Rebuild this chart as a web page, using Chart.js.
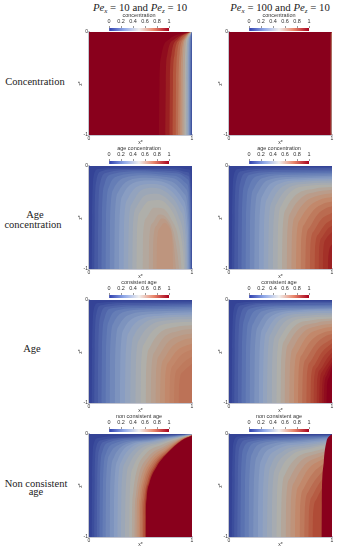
<!DOCTYPE html>
<html>
<head>
<meta charset="utf-8">
<script src="https://cdn.jsdelivr.net/npm/chart.js@4"></script>
<style>
body { margin: 0; background: #fff; width: 338px; height: 550px; overflow: hidden; position: relative; }
canvas { position: absolute; filter: blur(0.45px); }
.lab { position: absolute; transform: translate(-50%, -50%); font-family: "Liberation Serif", serif; color: #222; white-space: nowrap; font-size: 10.5px; line-height: 1; }
.head { font-size: 10.8px; }
.head i { font-style: italic; }
.head sub { font-size: 7px; vertical-align: -2px; line-height: 0; }
</style>
</head>
<body>
<script>
// level values and contour lines as [x*, z*]
const ticksBar = [0, 0.2, 0.4, 0.6, 0.8, 1];

const concLowLevels = [1, 0.97, 0.92, 0.86, 0.8, 0.74, 0.68, 0.62, 0.56, 0.5, 0.42, 0.34, 0.26, 0.18, 0.08];
const concLowLines = [
  [[0, 0], [1, 0]],
  [[.68, -1], [.685, -.5], [.70, -.24], [.78, -.07], [.9, -.015], [1, 0]],
  [[.74, -1], [.745, -.5], [.76, -.22], [.83, -.07], [.93, -.015], [1, 0]],
  [[.78, -1], [.785, -.5], [.8, -.22], [.86, -.07], [.94, -.015], [1, 0]],
  [[.81, -1], [.815, -.5], [.83, -.22], [.88, -.07], [.95, -.015], [1, 0]],
  [[.84, -1], [.845, -.5], [.855, -.22], [.9, -.07], [.96, -.015], [1, 0]],
  [[.865, -1], [.87, -.5], [.88, -.21], [.92, -.065], [.965, -.013], [1, 0]],
  [[.885, -1], [.89, -.5], [.9, -.2], [.935, -.06], [.97, -.012], [1, 0]],
  [[.905, -1], [.908, -.5], [.915, -.19], [.945, -.055], [.975, -.011], [1, 0]],
  [[.925, -1], [.928, -.5], [.935, -.18], [.955, -.05], [.98, -.01], [1, 0]],
  [[.943, -1], [.945, -.5], [.95, -.17], [.97, -.045], [1, 0]],
  [[.958, -1], [.96, -.5], [.965, -.16], [.98, -.04], [1, 0]],
  [[.97, -1], [.972, -.5], [.975, -.15], [.985, -.035], [1, 0]],
  [[.98, -1], [.982, -.5], [.985, -.13], [.992, -.03], [1, 0]],
  [[.99, -1], [.991, -.5], [.993, -.1], [1, 0]]
];

const concHighLevels = [1, 0.8, 0.4];
const concHighLines = [
  [[0, 0], [1, 0]],
  [[.985, -1], [.986, -.05], [.99, -.01], [1, 0]],
  [[.995, -1], [.996, -.05], [1, 0]]
];

const ageConcLowLevels = [0.03, 0.06, 0.1, 0.14, 0.18, 0.22, 0.26, 0.3, 0.34, 0.38, 0.42, 0.46, 0.5, 0.53, 0.56, 0.59, 0.61];
const ageConcLowLines = [
  [[0, 0], [1, 0]],
  [[.025, -1], [.03, -.5], [.045, -.1], [.09, -.03], [.4, -.015], [.85, -.015], [.975, -.035], [.998, -.25], [.999, -1]],
  [[.05, -1], [.055, -.5], [.07, -.15], [.12, -.05], [.3, -.03], [.8, -.03], [.96, -.06], [.995, -.3], [.998, -1]],
  [[.085, -1], [.09, -.5], [.11, -.16], [.17, -.065], [.45, -.04], [.84, -.05], [.96, -.095], [.99, -.35], [.994, -1]],
  [[.12, -1], [.125, -.5], [.15, -.18], [.22, -.08], [.5, -.05], [.85, -.07], [.96, -.13], [.985, -.4], [.99, -1]],
  [[.16, -1], [.165, -.5], [.195, -.2], [.275, -.1], [.52, -.07], [.83, -.095], [.95, -.175], [.98, -.45], [.985, -1]],
  [[.2, -1], [.205, -.5], [.24, -.22], [.33, -.12], [.55, -.09], [.82, -.12], [.94, -.22], [.975, -.5], [.98, -1]],
  [[.245, -1], [.25, -.52], [.285, -.25], [.375, -.145], [.56, -.115], [.8, -.15], [.925, -.27], [.968, -.55], [.974, -1]],
  [[.29, -1], [.295, -.55], [.33, -.28], [.42, -.17], [.58, -.14], [.78, -.18], [.91, -.32], [.96, -.6], [.967, -1]],
  [[.335, -1], [.34, -.57], [.375, -.32], [.46, -.205], [.6, -.175], [.77, -.22], [.895, -.37], [.95, -.65], [.958, -1]],
  [[.38, -1], [.385, -.6], [.42, -.36], [.5, -.24], [.62, -.21], [.76, -.26], [.88, -.42], [.94, -.7], [.95, -1]],
  [[.42, -1], [.425, -.62], [.46, -.4], [.54, -.29], [.65, -.27], [.77, -.33], [.87, -.49], [.925, -.75], [.938, -1]],
  [[.46, -1], [.465, -.65], [.5, -.44], [.58, -.34], [.68, -.33], [.78, -.4], [.86, -.56], [.91, -.8], [.925, -1]],
  [[.52, -1], [.525, -.68], [.56, -.5], [.63, -.405], [.71, -.41], [.8, -.52], [.875, -.74], [.9, -1]],
  [[.58, -1], [.585, -.7], [.62, -.55], [.68, -.47], [.74, -.49], [.82, -.64], [.86, -.86], [.875, -1]],
  [[.62, -1], [.625, -.72], [.655, -.58], [.705, -.51], [.76, -.54], [.815, -.7], [.845, -1]],
  [[.655, -1], [.66, -.75], [.69, -.6], [.735, -.55], [.78, -.6], [.81, -.75], [.816, -1]]
];

const ageConcHighLevels = [0.03, 0.06, 0.1, 0.14, 0.18, 0.22, 0.26, 0.3, 0.34, 0.38, 0.42, 0.46, 0.5, 0.54, 0.58, 0.62, 0.66, 0.7, 0.74, 0.78, 0.82, 0.85, 0.88, 0.92];
const ageConcHighLines = [
  [[0, 0], [1, 0]],
  [[.025, -1], [.03, -.5], [.045, -.1], [.09, -.03], [.4, -.012], [1, -.01]],
  [[.05, -1], [.055, -.5], [.07, -.14], [.12, -.05], [.4, -.025], [1, -.02]],
  [[.085, -1], [.09, -.5], [.11, -.16], [.17, -.065], [.45, -.04], [1, -.035]],
  [[.12, -1], [.125, -.5], [.15, -.18], [.22, -.08], [.5, -.055], [1, -.05]],
  [[.16, -1], [.165, -.5], [.195, -.2], [.27, -.1], [.55, -.07], [1, -.065]],
  [[.2, -1], [.205, -.5], [.24, -.22], [.32, -.12], [.6, -.085], [1, -.08]],
  [[.245, -1], [.25, -.52], [.285, -.25], [.37, -.14], [.65, -.105], [1, -.095]],
  [[.29, -1], [.295, -.55], [.33, -.28], [.42, -.16], [.7, -.12], [1, -.11]],
  [[.335, -1], [.34, -.57], [.375, -.31], [.47, -.18], [.72, -.135], [1, -.125]],
  [[.38, -1], [.385, -.6], [.42, -.34], [.52, -.2], [.75, -.15], [1, -.14]],
  [[.425, -1], [.43, -.61], [.465, -.36], [.56, -.225], [.78, -.17], [1, -.16]],
  [[.47, -1], [.475, -.62], [.51, -.38], [.6, -.25], [.8, -.19], [1, -.18]],
  [[.515, -1], [.52, -.65], [.555, -.415], [.65, -.28], [.83, -.22], [1, -.205]],
  [[.56, -1], [.565, -.68], [.6, -.45], [.7, -.31], [.85, -.25], [1, -.23]],
  [[.605, -1], [.61, -.7], [.645, -.485], [.74, -.35], [.88, -.285], [1, -.265]],
  [[.65, -1], [.655, -.72], [.69, -.52], [.78, -.39], [.9, -.32], [1, -.3]],
  [[.695, -1], [.7, -.74], [.735, -.56], [.82, -.43], [.92, -.365], [1, -.345]],
  [[.74, -1], [.745, -.76], [.78, -.6], [.86, -.47], [.94, -.41], [1, -.39]],
  [[.785, -1], [.79, -.78], [.825, -.63], [.895, -.52], [1, -.455]],
  [[.83, -1], [.835, -.8], [.87, -.66], [.93, -.57], [1, -.52]],
  [[.87, -1], [.875, -.81], [.905, -.69], [.96, -.61], [1, -.58]],
  [[.91, -1], [.915, -.82], [.94, -.71], [1, -.64]],
  [[.96, -1], [.965, -.87], [1, -.76]]
];

const ageLowLevels = [0.03, 0.06, 0.1, 0.14, 0.18, 0.22, 0.26, 0.3, 0.34, 0.38, 0.42, 0.46, 0.5, 0.54, 0.57, 0.6, 0.63, 0.66, 0.68, 0.7, 0.72];
const ageLowLines = [
  [[0, 0], [1, 0]],
  [[.025, -1], [.03, -.5], [.045, -.1], [.09, -.03], [.4, -.015], [1, -.012]],
  [[.05, -1], [.055, -.5], [.07, -.14], [.12, -.05], [.4, -.03], [1, -.025]],
  [[.085, -1], [.09, -.5], [.11, -.16], [.17, -.065], [.45, -.045], [1, -.04]],
  [[.12, -1], [.125, -.5], [.15, -.18], [.22, -.08], [.5, -.06], [1, -.05]],
  [[.16, -1], [.165, -.5], [.195, -.2], [.275, -.1], [.55, -.075], [1, -.065]],
  [[.2, -1], [.205, -.5], [.24, -.22], [.33, -.12], [.6, -.09], [1, -.08]],
  [[.25, -1], [.255, -.52], [.29, -.25], [.385, -.145], [.65, -.11], [1, -.1]],
  [[.3, -1], [.305, -.55], [.34, -.28], [.44, -.17], [.7, -.13], [1, -.12]],
  [[.35, -1], [.355, -.57], [.39, -.31], [.49, -.195], [.72, -.15], [1, -.14]],
  [[.4, -1], [.405, -.6], [.44, -.34], [.54, -.22], [.75, -.17], [1, -.16]],
  [[.45, -1], [.455, -.62], [.49, -.38], [.59, -.25], [.79, -.195], [1, -.185]],
  [[.5, -1], [.505, -.65], [.54, -.42], [.64, -.28], [.82, -.22], [1, -.21]],
  [[.55, -1], [.555, -.68], [.59, -.46], [.685, -.32], [.85, -.26], [1, -.245]],
  [[.6, -1], [.605, -.7], [.64, -.5], [.73, -.36], [.87, -.3], [1, -.28]],
  [[.645, -1], [.65, -.72], [.685, -.535], [.77, -.405], [.89, -.345], [1, -.325]],
  [[.69, -1], [.695, -.74], [.73, -.57], [.81, -.45], [.91, -.39], [1, -.37]],
  [[.735, -1], [.74, -.76], [.775, -.6], [.855, -.49], [.95, -.44], [1, -.425]],
  [[.78, -1], [.785, -.78], [.82, -.63], [.9, -.53], [1, -.48]],
  [[.825, -1], [.83, -.8], [.865, -.665], [.95, -.58], [1, -.55]],
  [[.87, -1], [.875, -.82], [.91, -.7], [1, -.62]]
];

const ageHighLevels = [0.03, 0.06, 0.1, 0.14, 0.18, 0.22, 0.26, 0.3, 0.34, 0.38, 0.42, 0.46, 0.5, 0.54, 0.58, 0.62, 0.66, 0.7, 0.74, 0.78, 0.82, 0.85, 0.88, 0.91, 0.94, 0.97, 1];
const ageHighLines = [
  [[0, 0], [1, 0]],
  [[.025, -1], [.03, -.5], [.045, -.1], [.09, -.03], [.4, -.012], [1, -.01]],
  [[.05, -1], [.055, -.5], [.07, -.14], [.12, -.05], [.4, -.025], [1, -.02]],
  [[.085, -1], [.09, -.5], [.11, -.16], [.17, -.065], [.45, -.035], [1, -.03]],
  [[.12, -1], [.125, -.5], [.15, -.18], [.22, -.08], [.5, -.05], [1, -.045]],
  [[.16, -1], [.165, -.5], [.195, -.2], [.27, -.095], [.55, -.06], [1, -.055]],
  [[.2, -1], [.205, -.5], [.24, -.22], [.32, -.11], [.6, -.075], [1, -.07]],
  [[.245, -1], [.25, -.52], [.285, -.25], [.37, -.13], [.65, -.09], [1, -.08]],
  [[.29, -1], [.295, -.55], [.33, -.27], [.42, -.15], [.7, -.1], [1, -.09]],
  [[.33, -1], [.335, -.56], [.37, -.3], [.465, -.165], [.72, -.115], [1, -.105]],
  [[.37, -1], [.375, -.58], [.41, -.32], [.51, -.18], [.75, -.13], [1, -.125]],
  [[.415, -1], [.42, -.59], [.455, -.34], [.555, -.2], [.78, -.15], [1, -.14]],
  [[.46, -1], [.465, -.6], [.5, -.36], [.6, -.22], [.8, -.17], [1, -.16]],
  [[.5, -1], [.505, -.62], [.54, -.39], [.64, -.25], [.82, -.195], [1, -.18]],
  [[.54, -1], [.545, -.65], [.58, -.42], [.68, -.28], [.85, -.22], [1, -.2]],
  [[.585, -1], [.59, -.68], [.625, -.46], [.72, -.315], [.87, -.25], [1, -.23]],
  [[.63, -1], [.635, -.7], [.67, -.5], [.76, -.35], [.9, -.28], [1, -.26]],
  [[.67, -1], [.675, -.72], [.71, -.53], [.8, -.39], [.92, -.315], [1, -.295]],
  [[.71, -1], [.715, -.74], [.75, -.57], [.84, -.43], [.94, -.35], [1, -.33]],
  [[.75, -1], [.755, -.76], [.79, -.6], [.87, -.47], [1, -.375]],
  [[.79, -1], [.795, -.78], [.83, -.63], [.9, -.51], [1, -.42]],
  [[.82, -1], [.825, -.79], [.86, -.65], [.925, -.54], [1, -.465]],
  [[.85, -1], [.855, -.8], [.89, -.67], [.95, -.57], [1, -.51]],
  [[.875, -1], [.88, -.82], [.91, -.69], [1, -.555]],
  [[.9, -1], [.905, -.84], [.93, -.72], [1, -.6]],
  [[.92, -1], [.925, -.85], [.95, -.73], [1, -.625]],
  [[.945, -1], [.95, -.86], [.975, -.74], [1, -.65]]
];

const nonConsLowLevels = [0.03, 0.06, 0.1, 0.14, 0.18, 0.22, 0.26, 0.3, 0.34, 0.38, 0.42, 0.46, 0.5, 0.54, 0.58, 0.62, 0.66, 0.7, 0.74, 0.8, 0.87, 1];
const nonConsLowLines = [
  [[0, 0], [1, 0]],
  [[.025, -1], [.03, -.45], [.045, -.1], [.09, -.04], [.35, -.015], [1, 0]],
  [[.05, -1], [.055, -.45], [.07, -.13], [.12, -.06], [.35, -.03], [.8, -.01], [1, 0]],
  [[.075, -1], [.08, -.48], [.1, -.15], [.16, -.07], [.42, -.035], [.82, -.012], [1, 0]],
  [[.1, -1], [.105, -.5], [.13, -.17], [.2, -.08], [.5, -.04], [.85, -.015], [1, 0]],
  [[.13, -1], [.135, -.5], [.165, -.19], [.25, -.09], [.52, -.048], [.85, -.018], [1, 0]],
  [[.16, -1], [.165, -.5], [.2, -.2], [.3, -.1], [.55, -.055], [.85, -.02], [1, 0]],
  [[.2, -1], [.205, -.52], [.24, -.23], [.335, -.11], [.58, -.06], [.88, -.02], [1, -.003]],
  [[.24, -1], [.245, -.55], [.28, -.25], [.37, -.12], [.6, -.065], [.9, -.02], [1, -.005]],
  [[.275, -1], [.28, -.55], [.315, -.265], [.41, -.13], [.62, -.07], [.9, -.022], [1, -.005]],
  [[.31, -1], [.315, -.55], [.35, -.28], [.45, -.14], [.65, -.075], [.9, -.025], [1, -.005]],
  [[.35, -1], [.355, -.58], [.39, -.3], [.485, -.155], [.68, -.082], [.9, -.028], [1, -.008]],
  [[.39, -1], [.395, -.6], [.43, -.32], [.52, -.17], [.7, -.09], [.9, -.03], [1, -.01]],
  [[.415, -1], [.418, -.75], [.43, -.56], [.46, -.37], [.545, -.2], [.72, -.1], [.9, -.035], [1, -.01]],
  [[.44, -1], [.443, -.78], [.455, -.6], [.485, -.4], [.57, -.23], [.74, -.115], [.9, -.04], [1, -.01]],
  [[.46, -1], [.462, -.78], [.473, -.6], [.505, -.42], [.585, -.25], [.75, -.125], [.9, -.045], [1, -.01]],
  [[.48, -1], [.482, -.8], [.492, -.62], [.525, -.43], [.6, -.27], [.755, -.14], [.89, -.05], [1, -.012]],
  [[.495, -1], [.497, -.8], [.507, -.62], [.54, -.44], [.615, -.28], [.76, -.15], [.89, -.055], [1, -.012]],
  [[.51, -1], [.512, -.8], [.522, -.62], [.553, -.45], [.628, -.29], [.76, -.16], [.89, -.06], [1, -.012]],
  [[.525, -1], [.527, -.8], [.537, -.62], [.567, -.46], [.638, -.3], [.765, -.17], [.895, -.062], [1, -.014]],
  [[.54, -1], [.542, -.8], [.55, -.62], [.578, -.47], [.648, -.31], [.765, -.175], [.895, -.063], [1, -.015]],
  [[.55, -1], [.552, -.8], [.56, -.62], [.585, -.48], [.655, -.32], [.767, -.18], [.897, -.065], [1, -.015]]
];

const nonConsHighLevels = [0.03, 0.06, 0.1, 0.14, 0.18, 0.22, 0.26, 0.3, 0.34, 0.38, 0.42, 0.46, 0.5, 0.54, 0.58, 0.62, 0.66, 0.7, 0.74, 0.78, 0.82, 1];
const nonConsHighLines = [
  [[0, 0], [1, 0]],
  [[.025, -1], [.03, -.45], [.045, -.08], [.09, -.025], [.4, -.012], [1, -.005]],
  [[.05, -1], [.055, -.45], [.07, -.1], [.12, -.04], [.4, -.02], [1, -.01]],
  [[.08, -1], [.085, -.48], [.105, -.12], [.17, -.055], [.45, -.03], [1, -.015]],
  [[.11, -1], [.115, -.5], [.14, -.14], [.22, -.07], [.5, -.04], [1, -.02]],
  [[.15, -1], [.155, -.5], [.185, -.16], [.27, -.08], [.55, -.05], [1, -.025]],
  [[.19, -1], [.195, -.5], [.23, -.18], [.32, -.09], [.6, -.06], [1, -.03]],
  [[.235, -1], [.24, -.52], [.275, -.21], [.37, -.11], [.65, -.07], [1, -.04]],
  [[.28, -1], [.285, -.55], [.32, -.24], [.42, -.13], [.7, -.08], [1, -.05]],
  [[.325, -1], [.33, -.58], [.365, -.27], [.47, -.15], [.72, -.095], [1, -.06]],
  [[.37, -1], [.375, -.6], [.41, -.3], [.52, -.17], [.75, -.11], [1, -.07]],
  [[.415, -1], [.42, -.61], [.455, -.325], [.56, -.19], [.78, -.125], [1, -.085]],
  [[.46, -1], [.465, -.62], [.5, -.35], [.6, -.21], [.8, -.14], [1, -.1]],
  [[.505, -1], [.51, -.64], [.545, -.39], [.645, -.24], [.83, -.165], [1, -.125]],
  [[.55, -1], [.555, -.66], [.59, -.43], [.69, -.27], [.86, -.19], [1, -.15]],
  [[.595, -1], [.6, -.68], [.635, -.465], [.73, -.305], [.88, -.22], [1, -.175]],
  [[.64, -1], [.645, -.7], [.68, -.5], [.77, -.34], [.9, -.25], [1, -.2]],
  [[.685, -1], [.69, -.73], [.725, -.53], [.81, -.385], [.92, -.29], [1, -.24]],
  [[.73, -1], [.735, -.75], [.77, -.56], [.85, -.43], [1, -.28]],
  [[.77, -1], [.775, -.78], [.81, -.6], [.885, -.465], [1, -.33]],
  [[.81, -1], [.815, -.8], [.85, -.63], [.92, -.5], [1, -.38]],
  [[.897, -1], [.9, -.7], [.92, -.27], [.945, -.08], [.975, -.02], [1, -.005]]
];

const panels = [
  { name: "concentration", row: 0, col: 0, levels: concLowLevels, lines: concLowLines },
  { name: "concentration", row: 0, col: 1, levels: concHighLevels, lines: concHighLines },
  { name: "age concentration", row: 1, col: 0, levels: ageConcLowLevels, lines: ageConcLowLines },
  { name: "age concentration", row: 1, col: 1, levels: ageConcHighLevels, lines: ageConcHighLines },
  { name: "consistent age", row: 2, col: 0, levels: ageLowLevels, lines: ageLowLines },
  { name: "consistent age", row: 2, col: 1, levels: ageHighLevels, lines: ageHighLines },
  { name: "non consistent age", row: 3, col: 0, levels: nonConsLowLevels, lines: nonConsLowLines },
  { name: "non consistent age", row: 3, col: 1, levels: nonConsHighLevels, lines: nonConsHighLines }
];

// shaded colour map of the plots
const mapStops = [0, 0.2, 0.35, 0.5, 0.65, 0.8, 0.9, 1];
const mapColors = [[44, 58, 145], [95, 120, 180], [140, 160, 195], [175, 175, 170], [195, 140, 110], [180, 85, 60], [160, 40, 35], [137, 0, 28]];

const plotLeft = [89, 229];
const plotTop = [32, 166, 300, 434];
const plotSize = 103;
const barLeft = [109, 248.5];
const barTop = [28, 161, 295, 429];
const textFont = "Liberation Sans";
const textColor = "#333";

function colorOf(v) {
  let i = 0;
  while (i < mapStops.length - 2 && v > mapStops[i + 1]) i++;
  const t = (v - mapStops[i]) / (mapStops[i + 1] - mapStops[i]);
  const c = mapColors[i].map((a, k) => Math.round(a + (mapColors[i + 1][k] - a) * t));
  return "rgb(" + c.join(",") + ")";
}

function addCanvas(left, top, w, h) {
  const cv = document.createElement("canvas");
  cv.width = w;
  cv.height = h;
  cv.style.left = left + "px";
  cv.style.top = top + "px";
  cv.style.width = w + "px";
  cv.style.height = h + "px";
  document.body.appendChild(cv);
  return cv;
}

function drawPlot(p) {
  const cv = addCanvas(plotLeft[p.col] - 11, plotTop[p.row] - 4, plotSize + 16, plotSize + 15);
  new Chart(cv, {
    type: "line",
    data: {
      datasets: p.lines.map((line, i) => ({
        data: line.map(pt => ({ x: pt[0], y: pt[1] })),
        fill: { value: -1 },
        backgroundColor: colorOf(p.levels[i]),
        borderWidth: 0,
        pointRadius: 0,
        cubicInterpolationMode: "monotone",
        order: p.lines.length - i
      }))
    },
    options: {
      responsive: false,
      animation: false,
      layout: { padding: { top: 4, right: 5 } },
      plugins: { legend: { display: false }, tooltip: { enabled: false } },
      scales: {
        x: {
          type: "linear", min: 0, max: 1,
          grid: { display: false, drawTicks: false },
          border: { color: "#c4c6d0", width: 2 },
          ticks: { stepSize: 1, maxRotation: 0, padding: 1, font: { family: textFont, size: 5 }, color: textColor },
          title: { display: true, text: "x*", padding: 0, font: { family: textFont, size: 5 }, color: textColor },
          afterFit: s => { s.height = 11; }
        },
        y: {
          min: -1, max: 0,
          grid: { display: false, drawTicks: false },
          border: { color: "#c4c6d0", width: 2 },
          ticks: { stepSize: 1, padding: 1, font: { family: textFont, size: 5 }, color: textColor },
          title: { display: true, text: "z*", padding: 0, font: { family: textFont, size: 5 }, color: textColor },
          afterFit: s => { s.width = 11; }
        }
      }
    }
  });
}

function drawBar(p) {
  const cv = addCanvas(barLeft[p.col] - 12, barTop[p.row] - 16, 84, 19);
  new Chart(cv, {
    type: "bar",
    data: {
      labels: [""],
      datasets: [{
        data: [[0, 1]],
        barPercentage: 1,
        categoryPercentage: 1,
        backgroundColor: ctx => {
          const a = ctx.chart.chartArea;
          if (!a) return "#999";
          const g = ctx.chart.ctx.createLinearGradient(a.left, 0, a.right, 0);
          g.addColorStop(0, "#2f3fae");
          g.addColorStop(0.25, "#8fa8e8");
          g.addColorStop(0.5, "#f0efee");
          g.addColorStop(0.75, "#e8856a");
          g.addColorStop(1, "#a8001e");
          return g;
        }
      }]
    },
    options: {
      indexAxis: "y",
      responsive: false,
      animation: false,
      layout: { padding: { left: 12, right: 12 } },
      plugins: { legend: { display: false }, tooltip: { enabled: false } },
      scales: {
        x: {
          position: "top", min: 0, max: 1,
          afterBuildTicks: s => { s.ticks = ticksBar.map(v => ({ value: v })); },
          grid: { drawOnChartArea: false, tickLength: 2, color: "#999" },
          border: { display: false },
          ticks: { maxRotation: 0, padding: 1, font: { family: textFont, size: 5.5 }, color: textColor, callback: v => String(v) },
          title: { display: true, text: p.name, padding: 0, font: { family: textFont, size: 5.5 }, color: textColor },
          afterFit: s => { s.height = 16; }
        },
        y: { display: false }
      }
    }
  });
}

function addText(html, x, y, cls) {
  const el = document.createElement("div");
  el.className = "lab " + (cls || "");
  el.innerHTML = html;
  el.style.left = x + "px";
  el.style.top = y + "px";
  document.body.appendChild(el);
}

addText("<i>Pe<sub>x</sub></i> = 10 and <i>Pe<sub>z</sub></i> = 10", 140, 7, "head");
addText("<i>Pe<sub>x</sub></i> = 100 and <i>Pe<sub>z</sub></i> = 10", 280, 7, "head");
addText("Concentration", 35, 82);
addText("Age", 35, 215);
addText("concentration", 33, 225);
addText("Age", 32, 349);
addText("Non consistent", 36, 484);
addText("age", 36, 492);

panels.forEach(p => {
  drawPlot(p);
  drawBar(p);
});
</script>
</body>
</html>
